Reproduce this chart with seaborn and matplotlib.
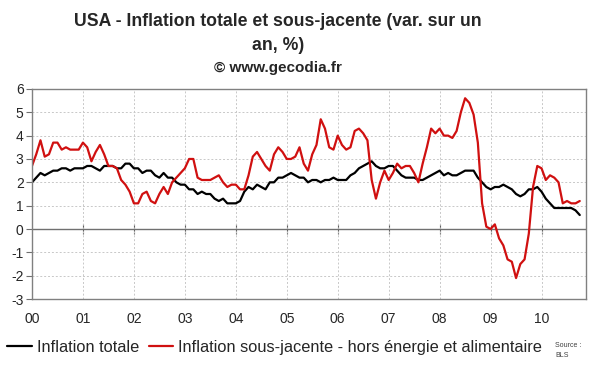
import matplotlib
matplotlib.use("Agg")
import matplotlib.pyplot as plt
import seaborn as sns
import pandas as pd
import numpy as np

# monthly, Jan 2000 -> Oct 2010 (year-on-year %)
black_vals = [2.0, 2.2, 2.4, 2.3, 2.4, 2.5, 2.5, 2.6, 2.6, 2.5, 2.6, 2.6,
              2.6, 2.7, 2.7, 2.6, 2.5, 2.7, 2.7, 2.7, 2.6, 2.6, 2.8, 2.8,
              2.6, 2.6, 2.4, 2.5, 2.5, 2.3, 2.2, 2.4, 2.2, 2.2, 2.0, 1.9,
              1.9, 1.7, 1.7, 1.5, 1.6, 1.5, 1.5, 1.3, 1.2, 1.3, 1.1, 1.1,
              1.1, 1.2, 1.6, 1.8, 1.7, 1.9, 1.8, 1.7, 2.0, 2.0, 2.2, 2.2,
              2.3, 2.4, 2.3, 2.2, 2.2, 2.0, 2.1, 2.1, 2.0, 2.1, 2.1, 2.2,
              2.1, 2.1, 2.1, 2.3, 2.4, 2.6, 2.7, 2.8, 2.9, 2.7, 2.6, 2.6,
              2.7, 2.7, 2.5, 2.3, 2.2, 2.2, 2.2, 2.1, 2.1, 2.2, 2.3, 2.4,
              2.5, 2.3, 2.4, 2.3, 2.3, 2.4, 2.5, 2.5, 2.5, 2.2, 2.0, 1.8,
              1.7, 1.8, 1.8, 1.9, 1.8, 1.7, 1.5, 1.4, 1.5, 1.7, 1.7, 1.8,
              1.6, 1.3, 1.1, 0.9, 0.9, 0.9, 0.9, 0.9, 0.8, 0.6]
red_vals = [2.7, 3.2, 3.8, 3.1, 3.2, 3.7, 3.7, 3.4, 3.5, 3.4, 3.4, 3.4,
            3.7, 3.5, 2.9, 3.3, 3.6, 3.2, 2.7, 2.7, 2.6, 2.1, 1.9, 1.6,
            1.1, 1.1, 1.5, 1.6, 1.2, 1.1, 1.5, 1.8, 1.5, 2.0, 2.2, 2.4,
            2.6, 3.0, 3.0, 2.2, 2.1, 2.1, 2.1, 2.2, 2.3, 2.0, 1.8, 1.9,
            1.9, 1.7, 1.7, 2.3, 3.1, 3.3, 3.0, 2.7, 2.5, 3.2, 3.5, 3.3,
            3.0, 3.0, 3.1, 3.5, 2.8, 2.5, 3.2, 3.6, 4.7, 4.3, 3.5, 3.4,
            4.0, 3.6, 3.4, 3.5, 4.2, 4.3, 4.1, 3.8, 2.1, 1.3, 2.0, 2.5,
            2.1, 2.4, 2.8, 2.6, 2.7, 2.7, 2.4, 2.0, 2.8, 3.5, 4.3, 4.1,
            4.3, 4.0, 4.0, 3.9, 4.2, 5.0, 5.6, 5.4, 4.9, 3.7, 1.1, 0.1,
            0.0, 0.2, -0.4, -0.7, -1.3, -1.4, -2.1, -1.5, -1.3, -0.2, 1.8, 2.7,
            2.6, 2.1, 2.3, 2.2, 2.0, 1.1, 1.2, 1.1, 1.1, 1.2]
year_labels = ['00', '01', '02', '03', '04', '05', '06', '07', '08', '09', '10']
series_names = ['Inflation totale', 'Inflation sous-jacente - hors énergie et alimentaire']

t = np.arange(len(black_vals)) / 12.0
df = pd.DataFrame({
    't': np.concatenate([t, t]),
    'val': black_vals + red_vals,
    'serie': [series_names[0]] * len(black_vals) + [series_names[1]] * len(red_vals),
})

sns.set_style("white")
plt.rcParams['font.family'] = ['Liberation Sans', 'DejaVu Sans']
plt.rcParams['axes.unicode_minus'] = False

fig = plt.figure(figsize=(6, 3.72), dpi=100)
ax = fig.add_axes([0.0533, 0.196, 0.924, 0.565])

ax.grid(True, color='#c8c8c8', linestyle=(0, (2, 2)), linewidth=0.7)
ax.set_axisbelow(True)
ax.axhline(0, color='#707070', linewidth=1, zorder=1.5)

sns.lineplot(data=df, x='t', y='val', hue='serie', palette=['black', '#d01010'],
             linewidth=1.6, ax=ax, legend=True)

ax.set_xlim(0, 10.88)
ax.set_ylim(-3, 6)
ax.set_yticks(range(-3, 7))
ax.set_xticks(range(len(year_labels)))
ax.set_xticklabels(year_labels)
ax.set_xlabel('')
ax.set_ylabel('')
ax.tick_params(axis='x', length=0, pad=9, labelsize=10)
ax.tick_params(axis='y', length=4, width=0.8, color='#707070', direction='out', pad=2, labelsize=10, left=True)
for s in ax.spines.values():
    s.set_color('#808080')
    s.set_linewidth(1)

# tick marks on the zero line
sec = ax.secondary_xaxis(3 / 9)
sec.set_xticks(range(1, len(year_labels)))
sec.tick_params(axis='x', direction='inout', length=7, width=0.8, color='#606060', labelbottom=False)
sec.set_xticklabels([])
sec.spines['bottom'].set_visible(False)

ax.legend(loc='center', bbox_to_anchor=(0.458, 0.067), bbox_transform=fig.transFigure,
          ncol=2, frameon=False, fontsize=11.8, handlelength=1.5, handletextpad=0.3,
          columnspacing=0.6, borderaxespad=0)

fig.text(0.463, 0.93, 'USA - Inflation totale et sous-jacente (var. sur un', ha='center',
         fontsize=12.7, fontweight='bold')
fig.text(0.463, 0.865, 'an, %)', ha='center', fontsize=12.7, fontweight='bold')
fig.text(0.463, 0.807, '© www.gecodia.fr', ha='center', fontsize=11, fontweight='bold')
fig.text(0.925, 0.04, 'Source :\nBLS', fontsize=5, color='#404040', linespacing=1.6)

fig.savefig('out.png', dpi=100, facecolor='white')
